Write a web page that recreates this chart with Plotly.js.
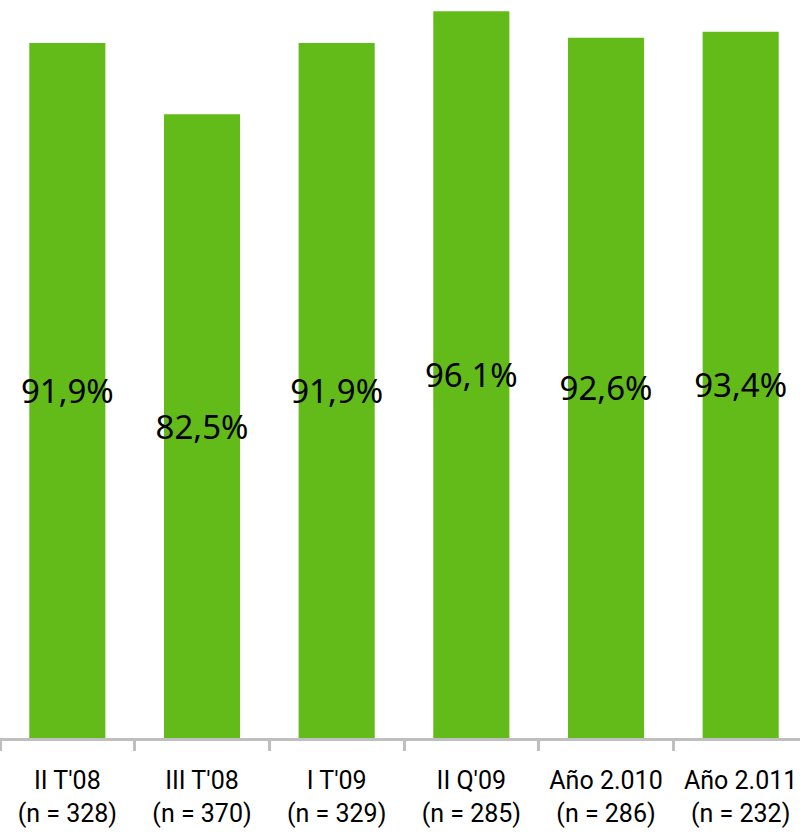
<!DOCTYPE html>
<html>
<head>
<meta charset="utf-8">
<script src="https://cdn.plot.ly/plotly-3.0.1.min.js"></script>
<style>html,body{margin:0;padding:0;overflow:hidden;background:#fff;}</style>
</head>
<body>
<div id="chart" style="width:808px;height:835px;"></div>
<script>
const categories = ["II T'08<br>(n = 328)", "III T'08<br>(n = 370)", "I T'09<br>(n = 329)", "II Q'09<br>(n = 285)", "Año 2.010<br>(n = 286)", "Año 2.011<br>(n = 232)"];
const values = [91.9, 82.5, 91.9, 96.1, 92.6, 93.4];
const labels = ["91,9%", "82,5%", "91,9%", "96,1%", "92,6%", "93,4%"];

Plotly.newPlot('chart', [{
  type: 'bar',
  x: categories,
  y: values,
  text: labels,
  textposition: 'inside',
  insidetextanchor: 'middle',
  constraintext: 'none',
  textangle: 0,
  cliponaxis: false,
  insidetextfont: {family: 'Noto Sans', size: 33, color: '#000000'},
  marker: {color: '#63BB1A'},
  hoverinfo: 'none'
}], {
  width: 808, height: 835,
  margin: {l: 0, r: 0, t: 0, b: 97},
  bargap: 0.435,
  paper_bgcolor: '#ffffff', plot_bgcolor: '#ffffff',
  showlegend: false,
  xaxis: {
    showline: true, linecolor: '#BFBFBF', linewidth: 3,
    ticks: 'outside', tickson: 'boundaries', ticklen: 10, tickwidth: 3, tickcolor: '#BFBFBF',
    tickfont: {family: 'Roboto', size: 25, color: '#000000'},
    ticklabelstandoff: 18,
    showgrid: false, zeroline: false, fixedrange: true
  },
  yaxis: {
    range: [0, 97.6], visible: false, showgrid: false, zeroline: false, fixedrange: true
  }
}, {displayModeBar: false, staticPlot: true});
</script>
</body>
</html>
